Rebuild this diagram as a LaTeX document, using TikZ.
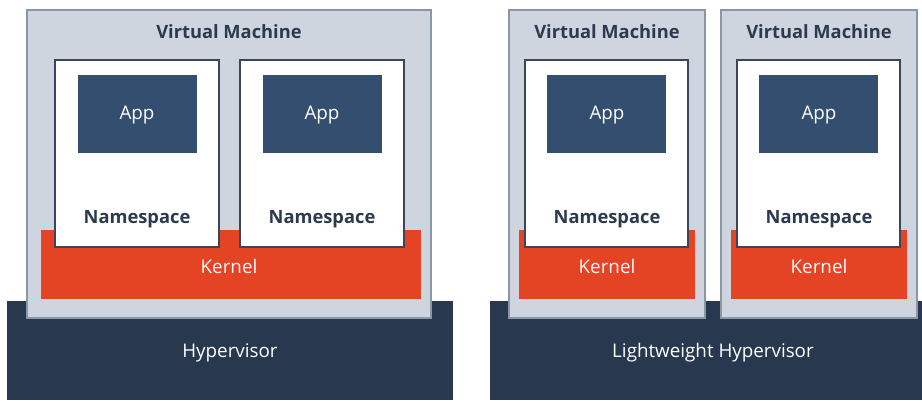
\documentclass[tikz,border=0pt]{standalone}
\usepackage{fontspec}
\setmainfont{Open Sans}
\definecolor{hypdark}{HTML}{28384E}
\definecolor{vmgrey}{HTML}{CED5DF}
\definecolor{vmline}{HTML}{8C97A5}
\definecolor{kernred}{HTML}{E54424}
\definecolor{appblue}{HTML}{344E6F}
\definecolor{nsline}{HTML}{3B4758}
\definecolor{textdark}{HTML}{2B3A4E}
\tikzset{
	vmbox/.style={fill=vmgrey, draw=vmline, line width=1.5pt},
	nsbox/.style={fill=white, draw=nsline, line width=1.5pt},
	lighttext/.style={text=white, font=\fontsize{18.8}{22}\selectfont},
	darktext/.style={text=textdark, font=\fontsize{18.3}{22}\selectfont\bfseries}
}
\begin{document}
\begin{tikzpicture}[x=1pt, y=-1pt]
		\useasboundingbox (0,0) rectangle (922,400);

		% hypervisors
		\fill[hypdark] (7,301) rectangle (453,400);
		\node[lighttext] (hyp) at (230,353) {Hypervisor};
		\fill[hypdark] (490,301) rectangle (922,400);
		\node[lighttext] (lhyp) at (713,353) {Lightweight Hypervisor};

		% left virtual machine
		\draw[vmbox] (27,10) rectangle (431,318);
		\node[darktext] (vm) at (229,32) {Virtual Machine};
		\fill[kernred] (41,230) rectangle (421,299);
		\node[lighttext] (kern) at (229,266) {Kernel};

		\draw[nsbox] (55,60) rectangle (219,247);
		\fill[appblue] (78,75) rectangle (197,153);
		\node[lighttext] (appa) at (137,115) {App};
		\node[darktext] (nsa) at (137,219) {Namespace};

		\draw[nsbox] (240,60) rectangle (404,247);
		\fill[appblue] (263,75) rectangle (382,153);
		\node[lighttext] (appb) at (322,115) {App};
		\node[darktext] (nsb) at (322,219) {Namespace};

		% right virtual machines
		\draw[vmbox] (509,10) rectangle (705,318);
		\node[darktext] (vmc) at (607,32) {Virtual Machine};
		\fill[kernred] (519,230) rectangle (695,299);
		\node[lighttext] (kernc) at (607,266) {Kernel};
		\draw[nsbox] (525,60) rectangle (688,247);
		\fill[appblue] (547,75) rectangle (666,153);
		\node[lighttext] (appc) at (607,115) {App};
		\node[darktext] (nsc) at (607,219) {Namespace};

		\draw[vmbox] (721,10) rectangle (917,318);
		\node[darktext] (vmd) at (819,32) {Virtual Machine};
		\fill[kernred] (731,230) rectangle (907,299);
		\node[lighttext] (kernd) at (819,266) {Kernel};
		\draw[nsbox] (737,60) rectangle (900,247);
		\fill[appblue] (759,75) rectangle (878,153);
		\node[lighttext] (appd) at (819,115) {App};
		\node[darktext] (nsd) at (819,219) {Namespace};
	\end{tikzpicture}
\end{document}
